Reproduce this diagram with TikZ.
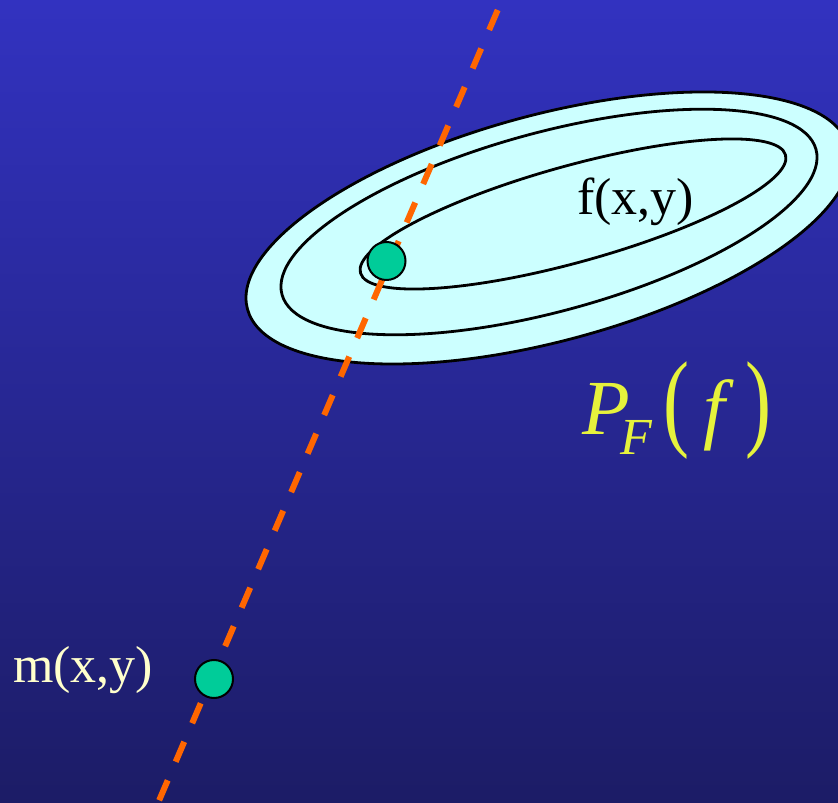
\documentclass[tikz,border=0pt]{standalone}
\usepackage{fontspec}
\setmainfont{Liberation Serif}
\usepackage{graphicx}
\usepackage{xcolor}
\usetikzlibrary{calc}

\definecolor{bgtop}{RGB}{50,50,192}
\definecolor{bgbot}{RGB}{28,28,102}
\definecolor{contour}{RGB}{204,255,255}
\definecolor{pointfill}{RGB}{0,204,153}
\definecolor{projcol}{RGB}{255,102,0}
\definecolor{labcol}{RGB}{255,255,204}
\definecolor{probcol}{RGB}{230,242,60}

\begin{document}
\begin{tikzpicture}[x=1pt,y=1pt,
  level/.style={draw=black,line width=2.8pt,fill=contour},
  point/.style={circle,draw=black,line width=2pt,fill=pointfill,minimum size=38pt,inner sep=0pt},
  projline/.style={projcol,line width=6pt,dash pattern=on 21.7pt off 20.2pt,dash phase=31pt},
  lab/.style={inner sep=0pt,anchor=base west,font=\fontsize{52}{60}\selectfont}]

  \shade[top color=bgtop,bottom color=bgbot] (0,0) rectangle (838,803);
  \useasboundingbox (0,0) rectangle (838,803);

  % level sets of f
  \begin{scope}
    \clip (0,0) rectangle (838,803);
    \draw[level,rotate around={15.1:(548,575)}] (548,575) ellipse [x radius=311.3,y radius=113.1];
    \draw[level,rotate around={15.2:(549,581)}] (549,581) ellipse [x radius=276.7,y radius=89.5];
    \draw[level,rotate around={15.5:(573,589)}] (573,589) ellipse [x radius=220.6,y radius=48.2];
  \end{scope}

  \coordinate (linetop) at (502,803);
  \coordinate (linebot) at (158,0);
  \draw[projline] (linetop) -- (linebot);

  \node (fdot) [point] at (386.5,542) {};
  \node (mdot) [point] at (214,124) {};

  \node (flab) [lab] at (577,588) {f(x,y)};
  \node (mlab) [lab,labcol] at (13,120.3) {m(x,y)};
  \node (plab) [lab,probcol,font=\fontsize{78}{90}\selectfont] at (582.2,368)
    {{\itshape P}\kern-9.5pt\raisebox{-19.3pt}{\fontsize{52}{60}\selectfont\itshape F}\kern11.6pt\raisebox{-2pt}{\scalebox{1}[1.383]{(}}\kern13.7pt{\itshape f}\kern20.5pt\raisebox{-2pt}{\scalebox{1}[1.383]{)}}};

\end{tikzpicture}
\end{document}
